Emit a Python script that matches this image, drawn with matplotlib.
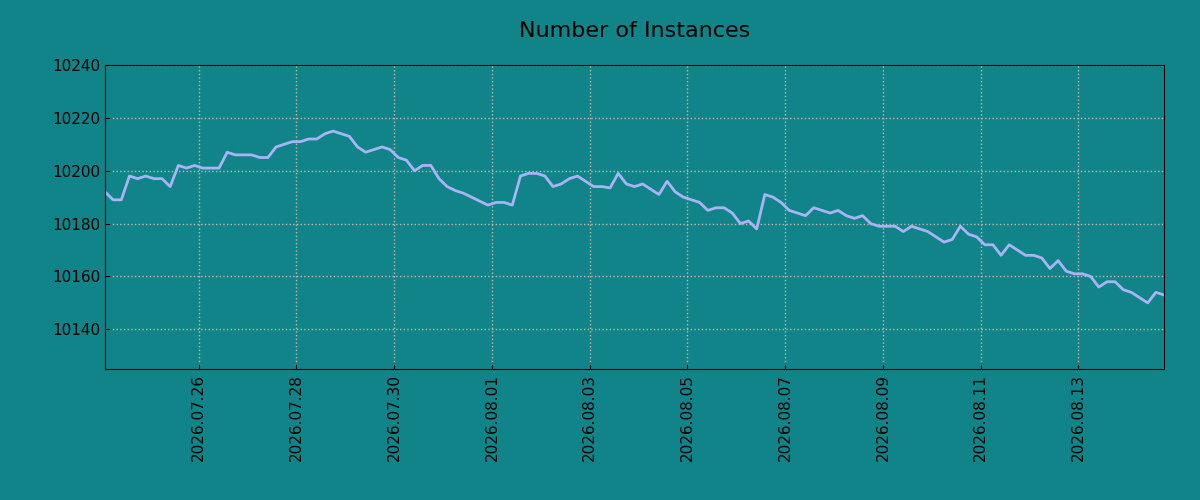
import matplotlib
matplotlib.use("Agg")
import matplotlib.pyplot as plt
import matplotlib.dates as mdates
import pandas as pd

values = [10192,10189,10189,10198,10197,10198,10197,10197,10194,10202,10201,10202,10201,10201,10201,
10207,10206,10206,10206,10205,10205,10209,10210,10211,10211,10212,10212,10214,10215,10214,10213,
10209,10207,10208,10209,10208,10205,10204,10200,10202,10202,10197,10194,10192.5,10191.5,10190,10188.5,
10187,10188,10188,10187,10198,10199,10199,10198,10194,10195,10197,10198,10196,10194,10194,10193.5,
10199,10195,10194,10195,10193,10191,10196,10192,10190,10189,10188,10185,10186,10186,10184,10180,
10181,10178,10191,10190,10188,10185,10184,10183,10186,10185,10184,10185,10183,10182,10183,10180,
10179,10179,10179,10177,10179,10178,10177,10175,10173,10174,10179,10176,10175,10172,10172,10168,
10172,10170,10168,10168,10167,10163,10166,10162,10161,10161,10160,10156,10158,10158,10155,10154,
10152,10150,10154,10153]
times = pd.date_range("2026-07-24 02:00", periods=len(values), freq="4h")

bg = "#108488"
fig = plt.figure(figsize=(12, 5), dpi=100, facecolor=bg)
ax = fig.add_axes([0.0875, 0.262, 0.8825, 0.608], facecolor=bg)
ax.plot(times, values, color="#a8b4f4", lw=2)
ax.set_xlim(times[0], times[-1])
ax.set_ylim(10125, 10240)
ax.set_yticks(range(10140, 10241, 20))
ax.xaxis.set_major_locator(mdates.DayLocator(bymonthday=[26, 28, 30, 1, 3, 5, 7, 9, 11, 13]))
ax.xaxis.set_major_formatter(mdates.DateFormatter("%Y.%m.%d"))
ax.grid(True, color="#c8b8a8", linestyle=":", lw=1)
ax.tick_params(axis="x", rotation=90, labelsize=11, direction="in")
ax.tick_params(axis="y", labelsize=11, direction="in")
for s in ax.spines.values():
    s.set_color("black")
ax.set_title("Number of Instances", fontsize=16, pad=20)
fig.savefig("out.png", facecolor=bg)
